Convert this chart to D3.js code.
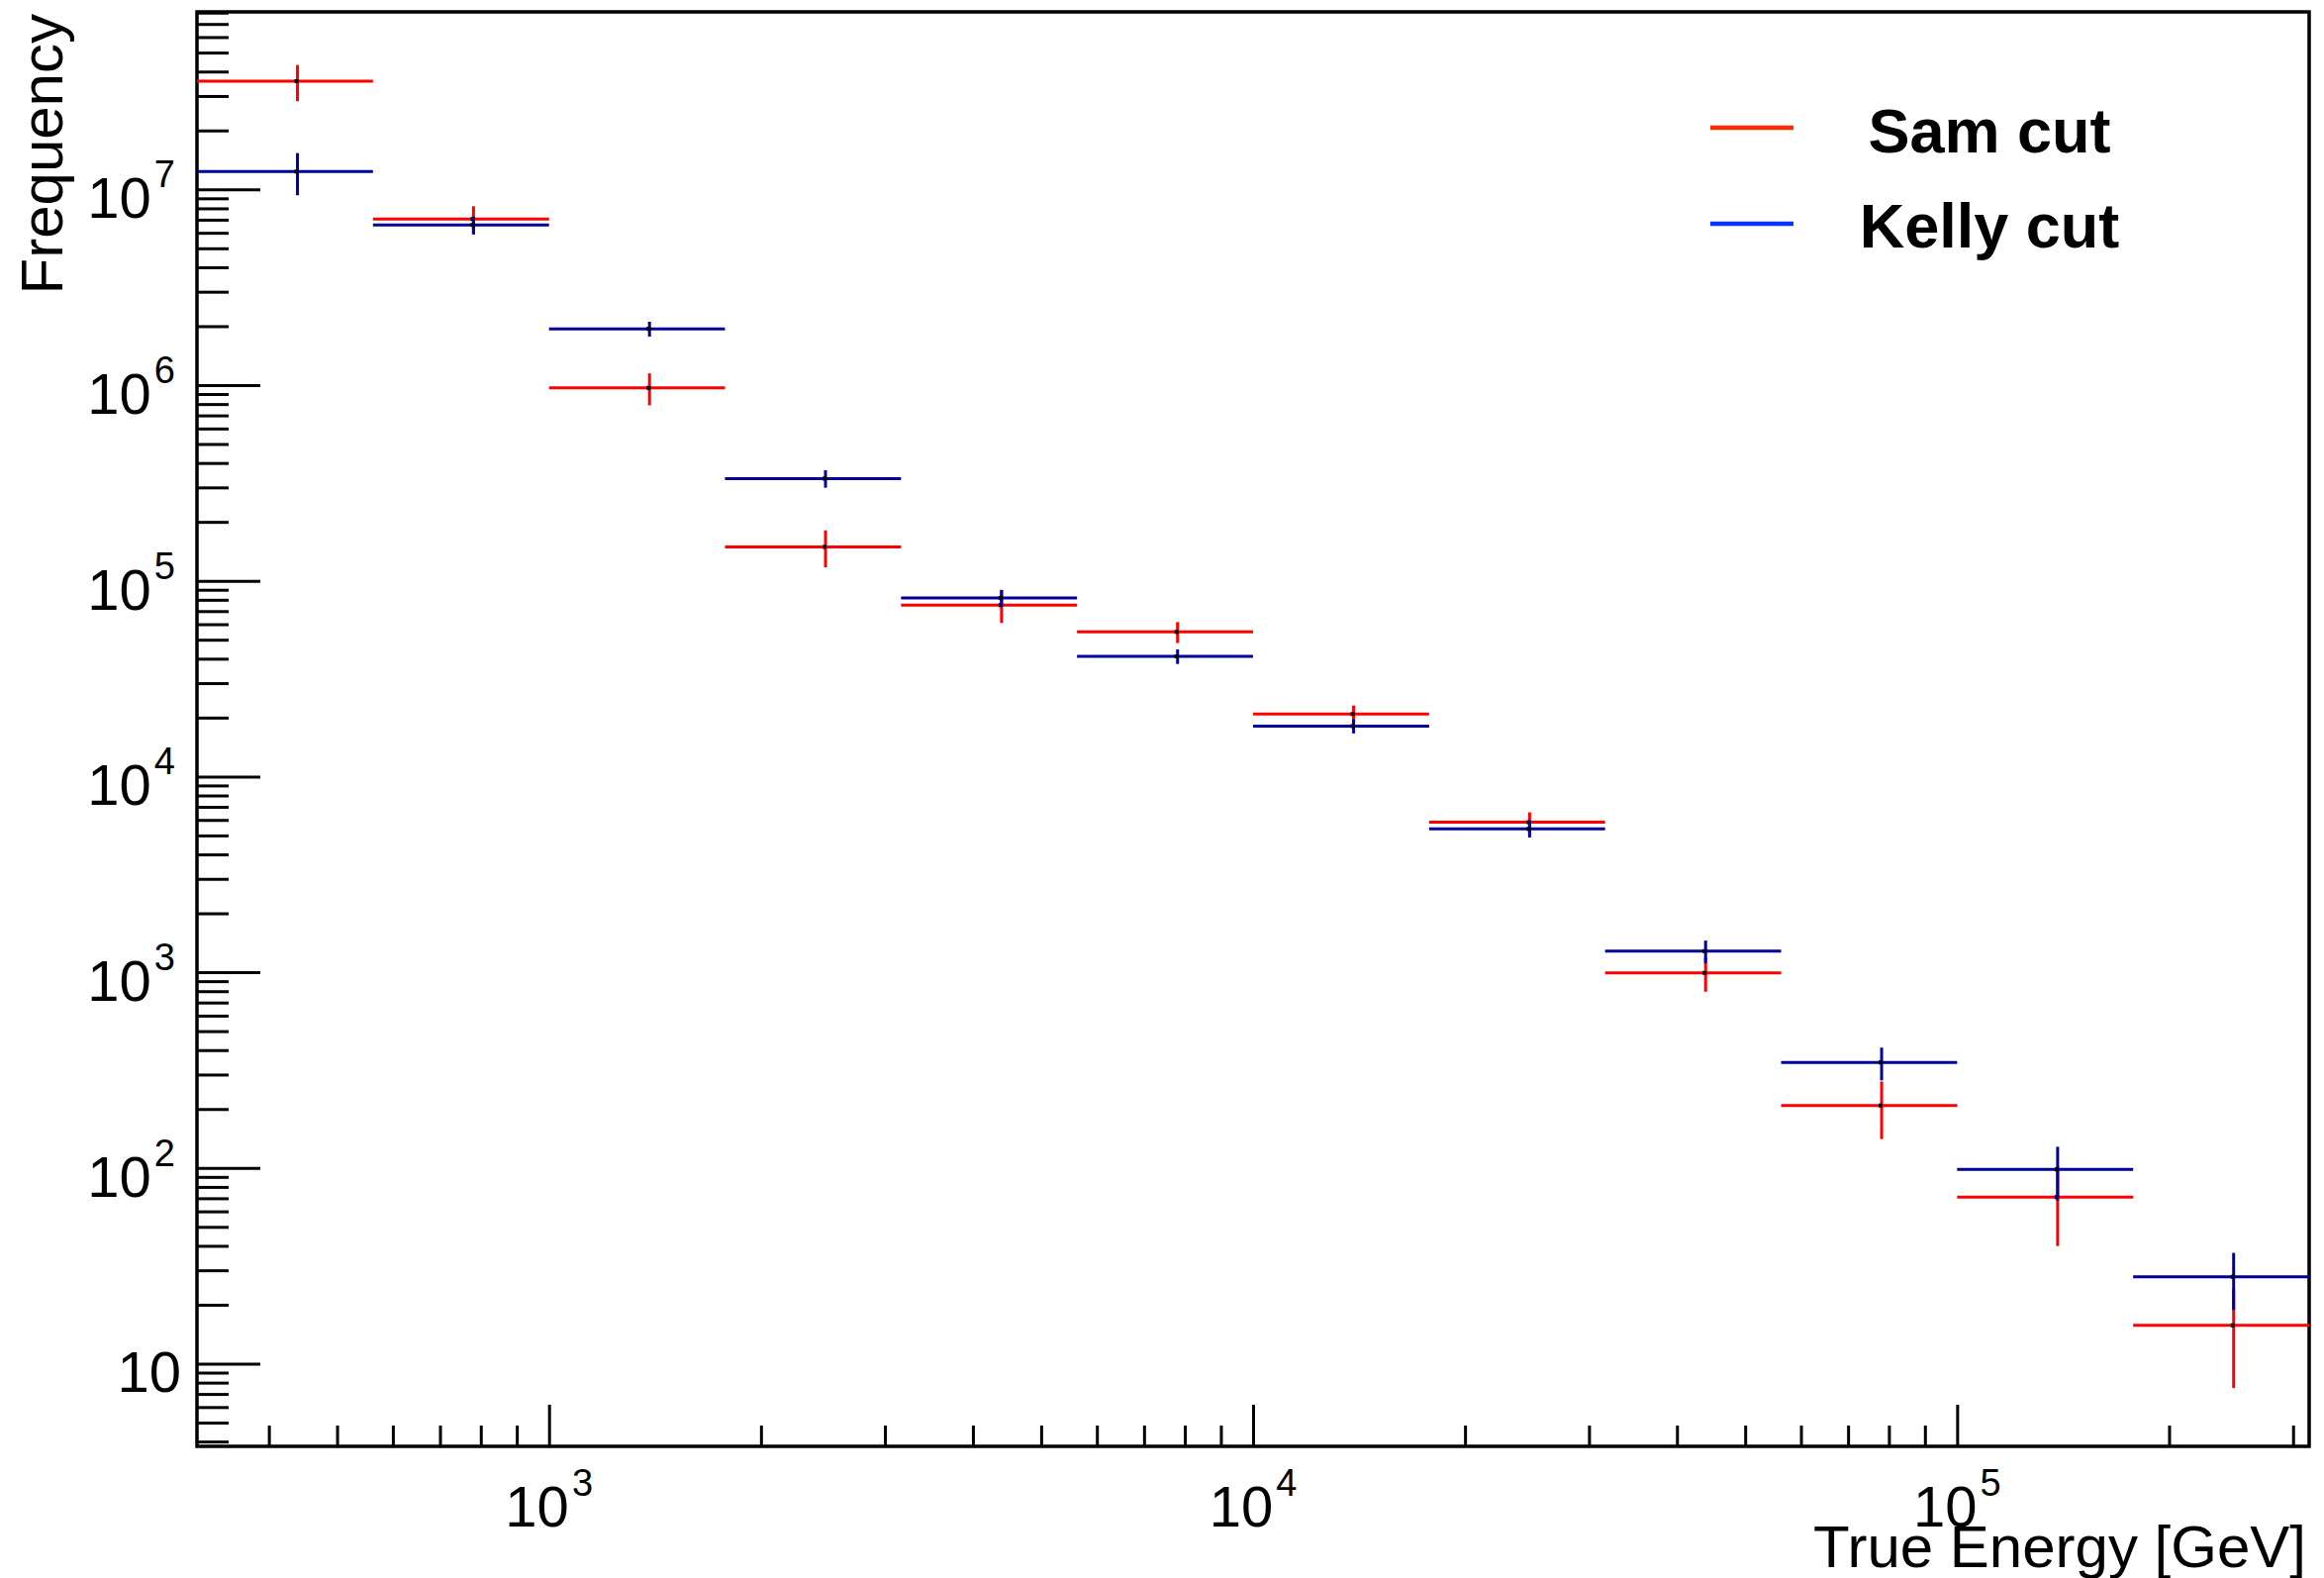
<!DOCTYPE html>
<html>
<head>
<meta charset="utf-8">
<script src="https://cdn.jsdelivr.net/npm/d3@7"></script>
<style>
  body { margin: 0; background: #fff; }
  text { font-family: "Liberation Sans", Arial, Helvetica, sans-serif; fill: #000; }
</style>
</head>
<body>
<svg id="chart" width="2348" height="1594"></svg>
<script>
// bin edges of the energy histogram (GeV), quarter-decade bins
const binEdges = [316.2, 562.3, 1000, 1778, 3162, 5623, 10000, 17783, 31623, 56234, 100000, 177828, 316228];

// Sam cut
const samCounts = [3.57e7, 7.05e6, 9.68e5, 1.49e5, 7.51e4, 5.48e4, 2.085e4, 5840, 992, 208.5, 70.9, 15.7];
const samErrors = [7.5e6, 1.15e6, 1.8e5, 3.2e4, 1.42e4, 6.7e3, 2.2e3, 720, 197, 68, 31, 8.2];

// Kelly cut
const kellyCounts = [1.233e7, 6.58e6, 1.937e6, 3.33e5, 8.17e4, 4.11e4, 1.81e4, 5400, 1281, 346, 98.3, 27.8];
const kellyErrors = [3.0e6, 6.9e5, 1.7e5, 3.4e4, 8.2e3, 3.5e3, 1.5e3, 520, 170, 66, 30, 9];

const xRange = [316.2, 316228];
const yRange = [3.78, 8.07e7];

const svg = d3.select("#chart");
const width = +svg.attr("width");
const height = +svg.attr("height");
const margin = { top: 12, right: 15, bottom: 133, left: 199 };

const x = d3.scaleLog().domain(xRange).range([margin.left, width - margin.right]);
const y = d3.scaleLog().domain(yRange).range([height - margin.bottom, margin.top]);

const isPow10 = v => Math.abs(Math.log10(v) - Math.round(Math.log10(v))) < 1e-9;

svg.append("rect").attr("width", width).attr("height", height).attr("fill", "#fff");

/* --- ticks (inside the frame, like ROOT) --- */
const xTicks = x.ticks();
const yTicks = y.ticks();
const xMajor = xTicks.filter(isPow10);
const yMajor = yTicks.filter(isPow10);

function tickAxis(axis, values, size) {
  return axis.tickValues(values).tickSize(size).tickFormat("");
}

const bottom = height - margin.bottom;

[[xTicks.filter(v => !isPow10(v)), -21], [xMajor, -42]].forEach(([vals, size]) => {
  const g = svg.append("g")
    .attr("transform", `translate(0,${bottom})`)
    .call(tickAxis(d3.axisBottom(x), vals, size));
  g.select(".domain").remove();
  g.selectAll("line").attr("stroke", "#000").attr("stroke-width", 3);
});

[[yTicks.filter(v => !isPow10(v)), -32], [yMajor, -64]].forEach(([vals, size]) => {
  const g = svg.append("g")
    .attr("transform", `translate(${margin.left},0)`)
    .call(tickAxis(d3.axisLeft(y), vals, size));
  g.select(".domain").remove();
  g.selectAll("line").attr("stroke", "#000").attr("stroke-width", 3);
});

/* --- frame --- */
svg.append("rect")
  .attr("x", margin.left)
  .attr("y", margin.top)
  .attr("width", width - margin.left - margin.right)
  .attr("height", height - margin.top - margin.bottom)
  .attr("fill", "none")
  .attr("stroke", "#000")
  .attr("stroke-width", 3.5);

/* --- tick labels --- */
yMajor.forEach(v => {
  const e = Math.round(Math.log10(v));
  const t = svg.append("text")
    .attr("text-anchor", "end")
    .attr("x", e === 1 ? 183 : 177)
    .attr("y", y(v) + 29)
    .attr("font-size", 58);
  t.append("tspan").text("10");
  if (e !== 1) t.append("tspan").attr("dy", -31).attr("dx", 3).attr("font-size", 38).text(e);
});

xMajor.forEach(v => {
  const e = Math.round(Math.log10(v));
  const t = svg.append("text")
    .attr("text-anchor", "middle")
    .attr("x", x(v))
    .attr("y", 1542)
    .attr("font-size", 58);
  t.append("tspan").text("10");
  t.append("tspan").attr("dy", -31).attr("dx", 3).attr("font-size", 38).text(e);
});

/* --- axis titles --- */
svg.append("text")
  .attr("text-anchor", "end")
  .attr("x", width - 18)
  .attr("y", 1583)
  .attr("font-size", 60)
  .text("True Energy [GeV]");

svg.append("text")
  .attr("text-anchor", "end")
  .attr("transform", `translate(63,14) rotate(-90)`)
  .attr("font-size", 60)
  .text("Frequency");

/* --- histograms with error bars --- */
function drawHist(counts, errors, color) {
  const rows = counts.map((v, i) => ({
    lo: binEdges[i], hi: binEdges[i + 1],
    mid: (binEdges[i] + binEdges[i + 1]) / 2,
    v, e: errors[i]
  }));
  const g = svg.append("g").attr("stroke", color).attr("stroke-width", 3);
  g.selectAll("line.h").data(rows).join("line")
    .attr("class", "h")
    .attr("x1", d => x(d.lo)).attr("x2", d => x(d.hi))
    .attr("y1", d => y(d.v)).attr("y2", d => y(d.v));
  g.selectAll("line.v").data(rows).join("line")
    .attr("class", "v")
    .attr("x1", d => x(d.mid)).attr("x2", d => x(d.mid))
    .attr("y1", d => y(d.v - d.e)).attr("y2", d => y(d.v + d.e));
  // tiny black marker at the bin centre
  svg.append("g").selectAll("rect").data(rows).join("rect")
    .attr("x", d => x(d.mid) - 3).attr("y", d => y(d.v) - 2)
    .attr("width", 4).attr("height", 4)
    .attr("fill", "#000");
}

drawHist(samCounts, samErrors, "#ff0000");
drawHist(kellyCounts, kellyErrors, "#00009c");

/* --- legend --- */
const legendItems = [
  { label: "Sam cut", color: "#ff2a00", y: 129, text: 154 },
  { label: "Kelly cut", color: "#0a32ff", y: 226, text: 250 }
];
legendItems.forEach(d => {
  svg.append("line")
    .attr("x1", 1728).attr("x2", 1812)
    .attr("y1", d.y).attr("y2", d.y)
    .attr("stroke", d.color).attr("stroke-width", 4.5);
  svg.append("text")
    .attr("x", 2010).attr("y", d.text)
    .attr("text-anchor", "middle")
    .attr("font-size", 63)
    .attr("font-weight", "bold")
    .text(d.label);
});
</script>
</body>
</html>
